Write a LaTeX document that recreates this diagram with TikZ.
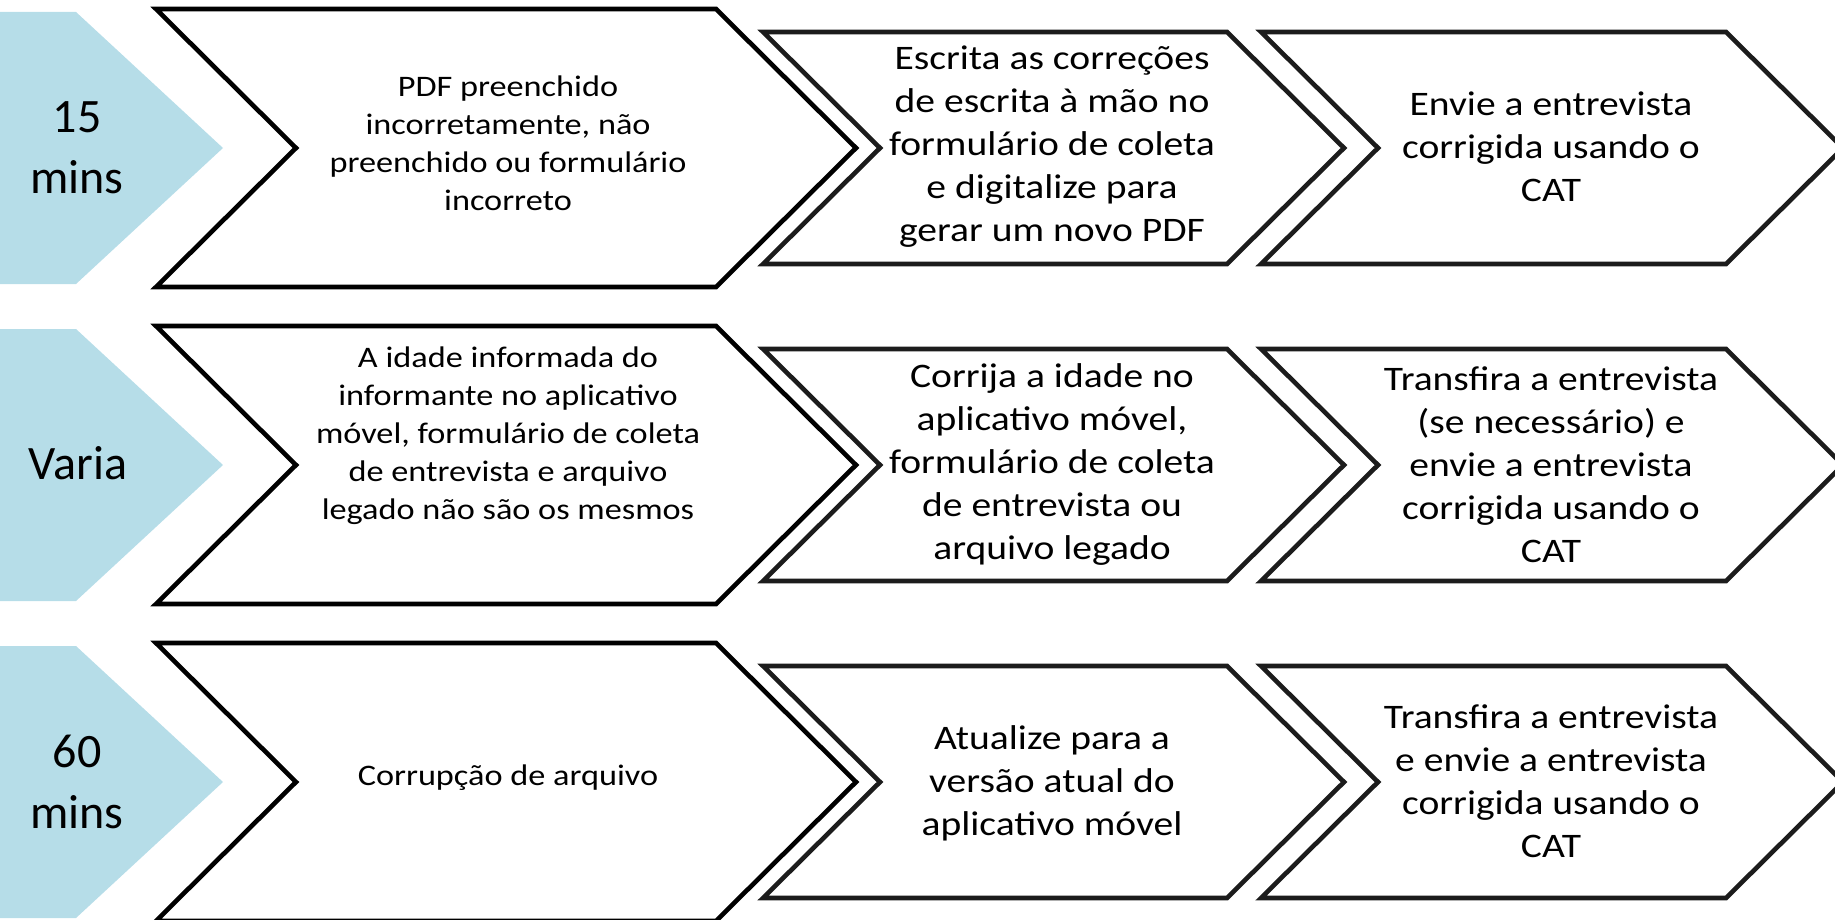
\documentclass[tikz,border=0pt]{standalone}
\usepackage{fontspec}
\setmainfont[FakeStretch=1.15]{Carlito}
\newfontfamily\timefont{Carlito}
\definecolor{timeblue}{HTML}{B6DDE8}
\definecolor{edgegray}{HTML}{1C1C1C}
% chevron: style, left x, right x, depth, center y, half height
\newcommand{\chevshape}[6]{%
  \draw[#1] (#2,#5-#6) -- (#3,#5-#6) -- (#3+#4,#5) -- (#3,#5+#6)
    -- (#2,#5+#6) -- (#2+#4,#5) -- cycle;}
\tikzset{
  firststep/.style={line width=2.3pt, draw=black, fill=white},
  nextstep/.style={line width=2.3pt, draw=edgegray, fill=white},
  timelbl/.style={align=center, font=\timefont\fontsize{24}{30.5}\selectfont},
  problbl/.style={align=center, font=\fontsize{14.9}{19}\selectfont},
  steplbl/.style={align=center, font=\fontsize{17.2}{21.5}\selectfont},
}
\begin{document}
\begin{tikzpicture}[x=0.5pt,y=-0.5pt]
\useasboundingbox (0,0) rectangle (1835,920);
\begin{scope}
\clip (0,0) rectangle (1835,920);
\foreach \cy in {148,465,782}{
  \fill[timeblue] (0,\cy-136) -- (76,\cy-136) -- (223,\cy) -- (76,\cy+136) -- (0,\cy+136) -- cycle;
  \chevshape{firststep}{156}{716}{140}{\cy}{139}
  \chevshape{nextstep}{763}{1227}{117}{\cy}{116}
  \chevshape{nextstep}{1261}{1726}{117}{\cy}{116}
}
\end{scope}

% row 1
\node[timelbl] (time1) at (77,148) {15\\mins};
\node[problbl] (prob1) at (508,143) {PDF preenchido\\incorretamente, não\\preenchido ou formulário\\incorreto};
\node[steplbl] (fix1) at (1052,147) {Escrita as correções\\de escrita à mão no\\formulário de coleta\\e digitalize para\\gerar um novo PDF};
\node[steplbl] (send1) at (1551,147) {Envie a entrevista\\corrigida usando o\\CAT};

% row 2
\node[timelbl] (time2) at (78,463) {Varia};
\node[problbl] (prob2) at (508,436) {A idade informada do\\informante no aplicativo\\móvel, formulário de coleta\\de entrevista e arquivo\\legado não são os mesmos};
\node[steplbl] (fix2) at (1052,465) {Corrija a idade no\\aplicativo móvel,\\formulário de coleta\\de entrevista ou\\arquivo legado};
\node[steplbl] (send2) at (1551,465) {Transfira a entrevista\\(se necessário) e\\envie a entrevista\\corrigida usando o\\CAT};

% row 3
\node[timelbl] (time3) at (77,782) {60\\mins};
\node[problbl] (prob3) at (508,778) {Corrupção de arquivo};
\node[steplbl] (fix3) at (1052,783) {Atualize para a\\versão atual do\\aplicativo móvel};
\node[steplbl] (send3) at (1551,781) {Transfira a entrevista\\e envie a entrevista\\corrigida usando o\\CAT};
\end{tikzpicture}
\end{document}
